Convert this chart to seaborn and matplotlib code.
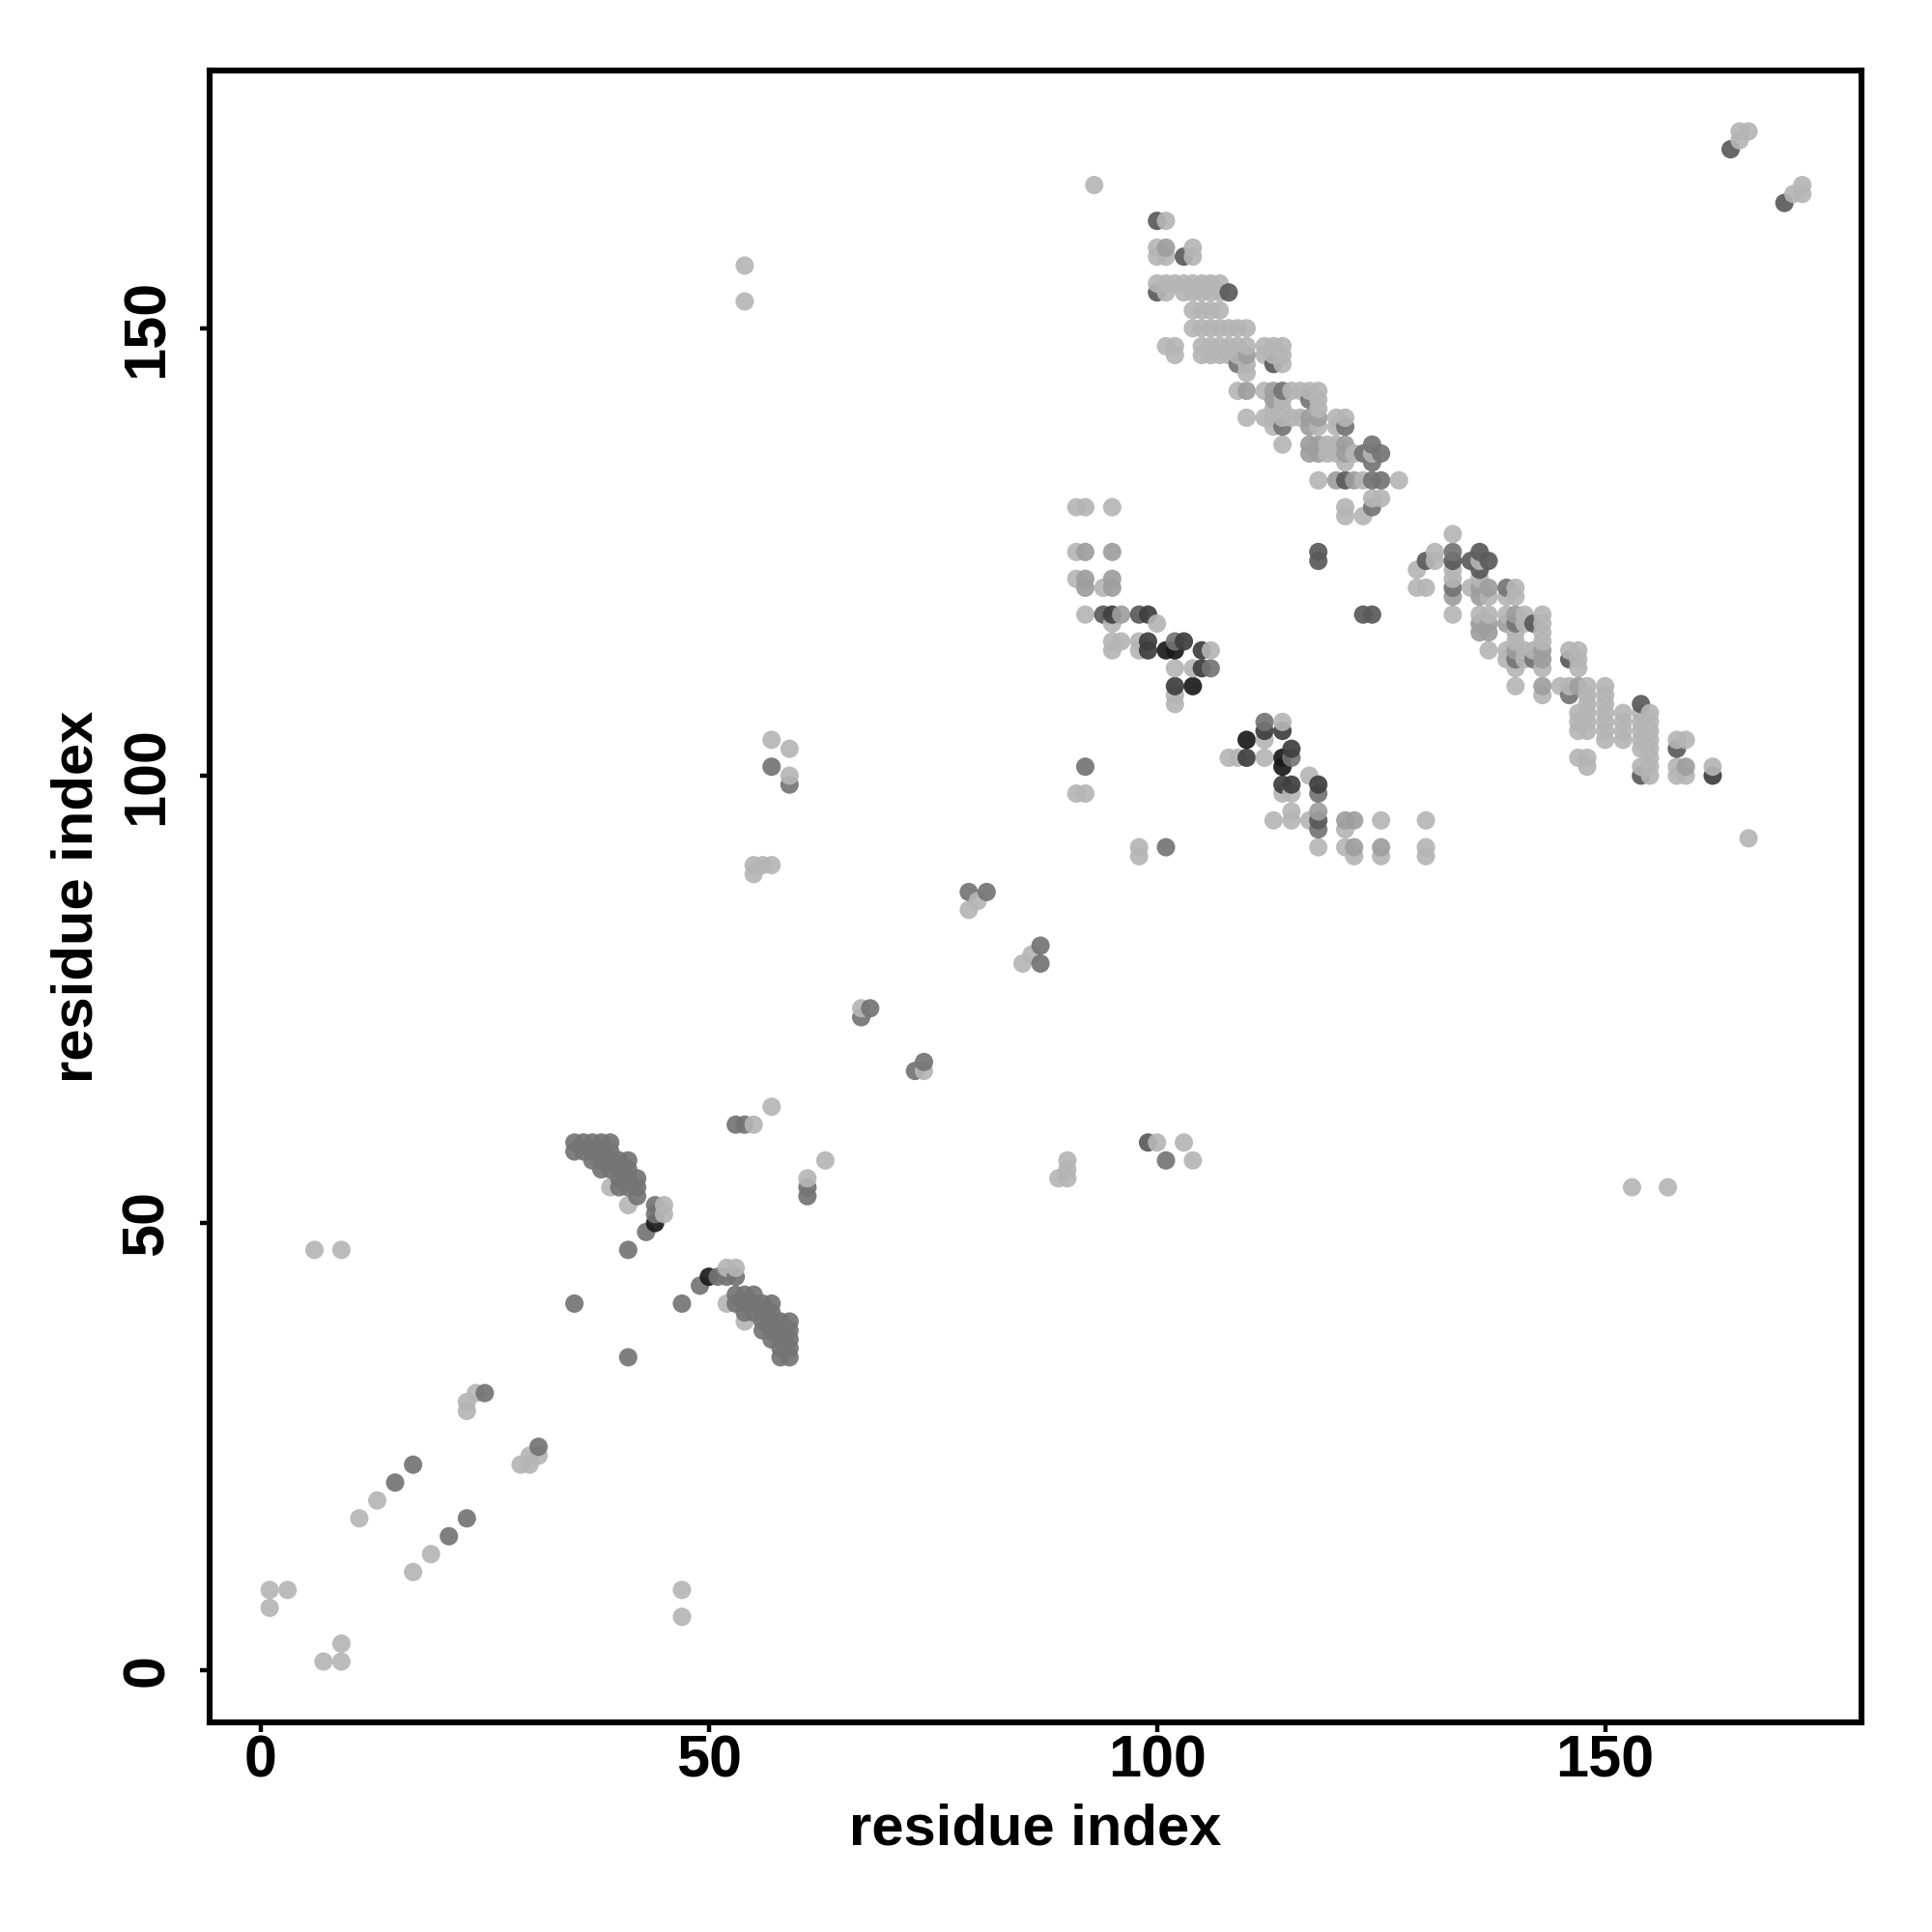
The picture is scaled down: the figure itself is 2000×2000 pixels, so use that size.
import pandas as pd
import matplotlib
matplotlib.use('Agg')
import matplotlib.pyplot as plt
import seaborn as sns

# contacts as (residue, residue), one list per gray level
light = [
    # upper band
    (101,162),(100,159),(104,159),(100,158),(101,158),(104,158),
    (100,155),(101,155),(102,155),(103,155),(104,155),(105,155),(106,155),(107,155),
    (101,154),(103,154),(104,154),(105,154),(106,154),(107,154),
    (104,152),(105,152),(106,152),(107,152),
    (104,150),(105,150),(106,150),(107,150),(108,150),(109,150),(110,150),
    (101,148),(102,148),(105,148),(106,148),(107,148),(108,148),(109,148),(110,148),(112,148),(113,148),(114,148),
    (102,147),(105,147),(106,147),(107,147),(108,147),(109,147),(112,147),(113,147),(114,147),
    (110,146),(114,146),(110,145),
    (109,143),(112,143),(115,143),(116,143),(117,143),(118,143),
    (114,142),(118,142),(113,141),(114,141),(118,141),
    (110,140),(112,140),(113,140),(114,140),(115,140),(116,140),(120,140),(121,140),
    (113,139),(118,139),(120,139),
    (114,137),(119,137),(120,137),(119,136),(120,136),(122,136),(124,136),(121,135),
    (118,133),(123,133),(127,133),(124,131),(125,131),(121,130),(121,129),(123,129),
    # right band
    (133,127),(131,125),(131,124),(136,124),(129,123),(133,123),(133,122),(136,122),
    (129,121),(130,121),(135,121),(140,121),(137,120),(139,120),(140,120),
    (133,118),(136,118),(137,118),(139,118),(141,118),(143,118),(141,117),(143,117),
    (140,116),(143,116),(140,115),(143,115),(137,114),(139,114),(141,114),(142,114),
    (139,113),(141,113),(147,113),(146,114),(147,114),(140,112),(143,112),(147,112),
    (140,110),(145,110),(146,110),(148,110),(150,110),(143,109),(148,109),(150,109),
    (148,108),(150,108),(147,107),(148,107),(150,107),(152,107),(154,107),(155,107),
    (147,106),(148,106),(150,106),(152,106),(154,106),(155,106),
    (147,105),(148,105),(150,105),(152,105),(154,105),(155,105),
    (150,104),(152,104),(154,104),(155,104),(158,104),(159,104),
    (154,103),(155,103),(147,102),(148,102),(155,102),(148,101),(154,101),(155,101),
    (158,101),(162,101),(155,100),(158,100),(159,100),
    # middle band
    (91,130),(92,130),(95,130),(91,125),(91,122),(94,121),(92,118),(95,117),(100,117),
    (95,115),(96,115),(98,115),(95,114),(98,114),(106,114),(102,112),(104,112),
    (102,109),(102,108),(114,106),(112,104),(108,102),(109,102),(112,102),(117,100),
    (91,98),(92,98),(114,98),(115,98),(115,96),(113,95),(115,95),(117,95),(125,95),(121,94),
    (98,92),(118,92),(121,92),(98,91),(122,91),(125,91),(130,95),(130,92),(130,91),
    # scattered
    (93,166),(54,157),(54,153),(165,171),(165,172),(166,172),(171,165),(172,166),(172,165),(166,93),
    (57,104),(59,103),(59,100),(55,90),(55,89),(56,90),(57,90),(79,85),(80,86),(85,79),(86,80),
    (67,74),(74,67),(57,63),(55,61),(61,55),(63,57),(90,57),(90,56),(89,55),(90,55),
    (100,59),(103,59),(104,57),(153,54),(157,54),
    # lower left
    (39,54),(41,52),(45,52),(45,51),(52,45),(53,45),(52,41),(54,39),
    (6,47),(9,47),(24,31),(23,30),(23,29),(13,19),(11,17),(30,24),(31,24),(29,23),(30,23),
    (19,13),(17,11),(1,9),(3,9),(1,7),(47,9),(47,6),(9,3),(7,1),(9,1),
]
soft = [
    (101,159),(110,147),(110,143),(113,143),(113,142),(117,140),(118,140),(117,139),
    (117,137),(118,137),(121,137),(117,136),(118,136),(121,136),(120,133),(122,133),
    (133,120),(136,120),(136,121),(137,121),(140,118),
    (136,117),(137,117),(139,117),(136,116),(137,116),(140,114),(143,114),(143,113),
    (143,110),(147,110),(159,101),
    (92,125),(95,125),(92,122),(95,122),(92,121),(95,121),(96,118),(121,95),(122,95),(118,96),
    (122,92),(125,92),
]
mid = [
    (109,146),(114,143),(117,142),(114,139),(121,139),(124,137),(123,136),(125,136),(124,135),
    (124,133),(125,133),(124,130),
    (133,125),(133,121),(139,121),(140,117),(146,109),(140,113),(142,113),
    (102,115),(112,106),(106,112),(115,102),(92,101),(118,98),(118,94),(101,92),
    (57,101),(59,99),(79,87),(81,87),(87,81),(87,79),(67,73),(68,74),(73,67),(74,68),
    (53,61),(54,61),(61,54),(61,53),(101,57),(25,31),(17,23),(15,21),(31,25),(23,17),(21,15),
    # lower cross
    (35,59),(36,59),(37,59),(38,59),(39,59),(35,58),(36,58),(37,58),(38,58),(39,58),
    (37,57),(38,57),(39,57),(40,57),(41,57),(38,56),(39,56),(40,56),(41,56),
    (40,55),(41,55),(42,55),(40,54),(41,54),(42,54),(42,53),(44,52),(44,51),(43,49),(41,47),
    (35,41),(47,41),(41,35),(49,43),(51,44),(52,44),(53,44),
    (53,42),(54,42),(55,42),(53,41),(54,41),(55,41),(56,41),(57,41),
    (54,40),(55,40),(56,40),(57,40),(56,39),(57,39),(58,39),(59,39),
    (56,38),(57,38),(58,38),(59,38),(57,37),(58,37),(59,37),(58,36),(59,36),(58,35),(59,35),
]
dark = [
    (100,162),(103,158),(100,154),(108,154),(113,146),(121,133),
    (130,124),(133,124),(135,124),(137,124),(136,125),(136,123),(142,117),(146,113),
    (154,108),(158,103),(154,100),
    (118,125),(118,124),(94,118),(98,118),(123,118),(124,118),(118,95),(99,59),
    (164,170),(170,164),
]
deep = [
    (95,118),(99,118),(99,115),(99,114),(103,115),(105,114),(105,112),(102,110),
    (112,105),(114,105),(115,103),(110,102),(114,99),(115,99),(118,99),(162,100),
]
black = [
    (101,114),(102,114),(104,110),(110,104),(114,102),(114,101),(44,50),(50,44),
]

tick_values = [0, 50, 100, 150]
gray_levels = {'light': '#b5b5b5', 'soft': '#9e9e9e', 'mid': '#747474',
               'dark': '#5a5a5a', 'deep': '#3e3e3e', 'black': '#1a1a1a'}

frames = []
for name, pts in [('light', light), ('soft', soft), ('mid', mid),
                  ('dark', dark), ('deep', deep), ('black', black)]:
    part = pd.DataFrame(pts, columns=['x', 'y'])
    part['level'] = name
    frames.append(part)
# the map is drawn residue by residue, so later residues sit on top
df = pd.concat(frames).sort_values(['x', 'y'], kind='stable')

sns.set_theme(style='white')
plt.rcParams['font.family'] = ['Liberation Sans', 'DejaVu Sans']

fig = plt.figure(figsize=(10, 10), dpi=200)
ax = fig.add_axes([217 / 2000, 1 - 1783 / 2000, 1710 / 2000, 1710 / 2000])

sns.scatterplot(data=df, x='x', y='y', hue='level', palette=gray_levels,
                s=47, linewidth=0, alpha=0.92, legend=False, ax=ax)

ax.set_xlim(-5.7, 178.6)
ax.set_ylim(-5.8, 178.8)
ax.set_xticks(tick_values)
ax.set_yticks(tick_values)
ax.tick_params(axis='both', length=3.6, width=1.6, color='black', bottom=True, left=True,
               labelsize=22, labelcolor='black')
ax.tick_params(axis='x', pad=1)
ax.tick_params(axis='y', pad=9)
for lab in ax.get_xticklabels():
    lab.set_fontweight('bold')
for lab in ax.get_yticklabels():
    lab.set_fontweight('bold')
    lab.set_rotation(90)
    lab.set_va('center')

ax.set_xlabel('residue index', fontsize=21.5, fontweight='bold', color='black', labelpad=5)
ax.set_ylabel('residue index', fontsize=21.5, fontweight='bold', color='black', labelpad=6.2)

for side in ax.spines.values():
    side.set_visible(True)
    side.set_color('black')
    side.set_linewidth(2.2)

fig.savefig('out.png', dpi=200, facecolor='white')
